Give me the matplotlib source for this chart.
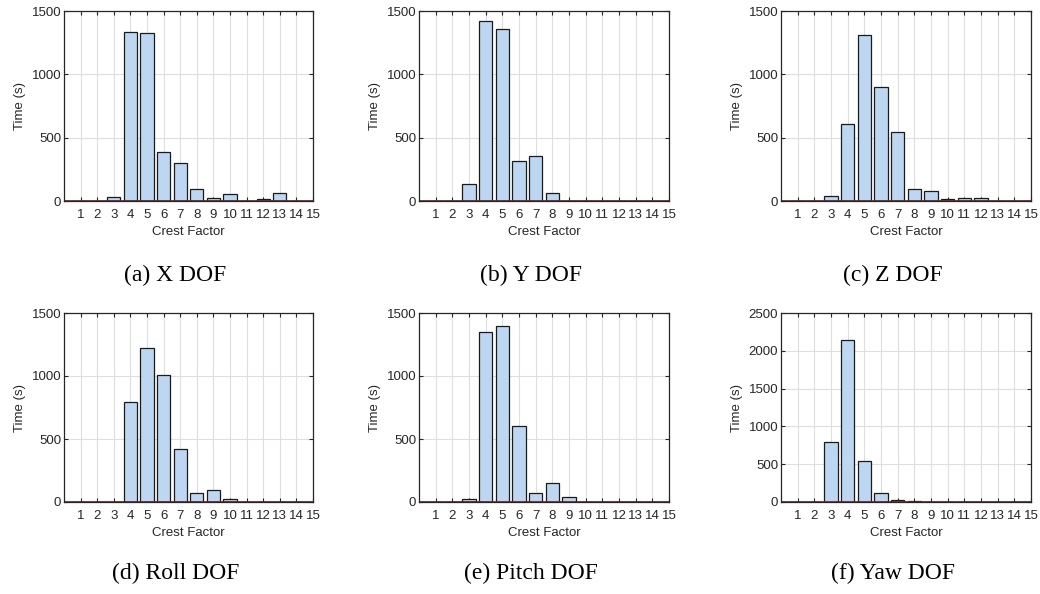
import matplotlib.pyplot as plt
import numpy as np

crest = list(range(1, 16))

x_dof = [0, 0, 34, 1337, 1323, 387, 303, 92, 26, 53, 0, 18, 66, 0, 0]
y_dof = [0, 0, 132, 1424, 1355, 319, 358, 66, 0, 0, 0, 0, 0, 0, 0]
z_dof = [0, 0, 40, 609, 1313, 902, 546, 98, 82, 18, 26, 26, 0, 0, 0]
roll_dof = [0, 0, 0, 794, 1222, 1008, 421, 71, 93, 24, 0, 0, 0, 0, 0]
pitch_dof = [0, 0, 21, 1352, 1394, 603, 74, 151, 40, 0, 0, 0, 0, 0, 0]
yaw_dof = [0, 0, 789, 2147, 538, 119, 26, 13, 0, 0, 0, 0, 0, 0, 0]

series = [x_dof, y_dof, z_dof, roll_dof, pitch_dof, yaw_dof]
captions = ['(a) X DOF', '(b) Y DOF', '(c) Z DOF',
            '(d) Roll DOF', '(e) Pitch DOF', '(f) Yaw DOF']
ymaxes = [1500, 1500, 1500, 1500, 1500, 2500]

W, H = 1040, 594
fig = plt.figure(figsize=(W / 100, H / 100), dpi=100)
plt.rcParams['font.family'] = ['Liberation Sans', 'DejaVu Sans']

# axes boxes in pixels: left, right, top, bottom
lefts = [64, 419, 781]
rights = [313, 669, 1031]
tops = [11, 313]
bottoms = [201, 502]
cap_y = [275, 573]
txt = '#262626'

for i, vals in enumerate(series):
    r, c = divmod(i, 3)
    l, rr, t, b = lefts[c], rights[c], tops[r], bottoms[r]
    ax = fig.add_axes([l / W, 1 - b / H, (rr - l) / W, (b - t) / H])
    ax.set_axisbelow(True)
    ax.grid(True, color='#dedede', linewidth=0.8)
    ax.bar(crest, vals, width=0.8, color='#bdd7f2', edgecolor='#1a1a1a',
           linewidth=0.9)
    ax.plot([0, 15], [0, 0], color='#6e1f1f', linewidth=1.2)
    ax.set_xlim(0, 15)
    ax.set_ylim(0, ymaxes[i])
    ax.set_xticks(crest)
    ax.set_yticks(np.arange(0, ymaxes[i] + 1, 500))
    ax.tick_params(direction='in', top=True, right=True, length=3,
                   labelsize=9.5, colors=txt)
    ax.tick_params(axis='x', pad=6)
    ax.tick_params(axis='y', pad=2)
    for s in ax.spines.values():
        s.set_color(txt)
        s.set_linewidth(0.9)
    ax.set_ylabel('Time (s)', fontsize=9.5, color=txt, labelpad=4)
    ax.set_xlabel('Crest Factor', fontsize=9.5, color=txt, labelpad=3)
    fig.text(((l + rr) / 2 - 13) / W, 1 - cap_y[r] / H, captions[i],
             ha='center', va='center', fontsize=17,
             family=['Liberation Serif', 'DejaVu Serif'])

fig.savefig('out.png', dpi=100)
